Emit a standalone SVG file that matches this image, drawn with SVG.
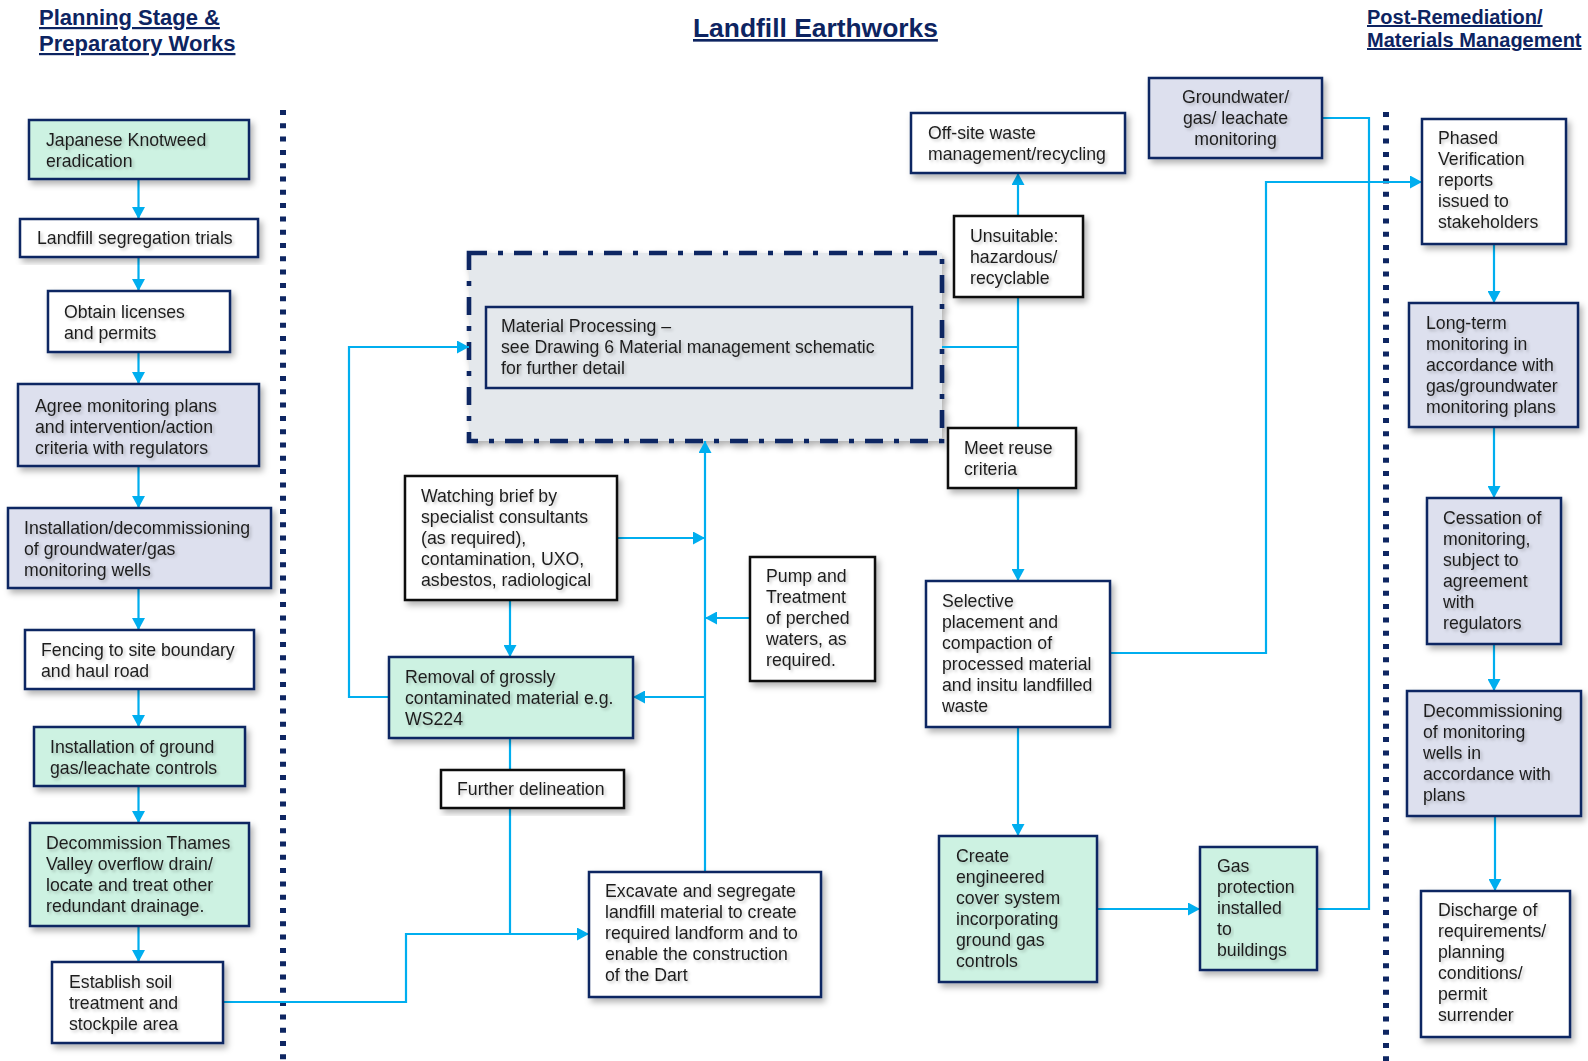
<svg xmlns="http://www.w3.org/2000/svg" width="1588" height="1061" viewBox="0 0 1588 1061">
<defs>
<filter id="sh" x="-10%" y="-10%" width="125%" height="130%">
<feDropShadow dx="3" dy="4" stdDeviation="3" flood-color="#000" flood-opacity="0.3"/>
</filter>
<filter id="tsh" x="-5%" y="-20%" width="115%" height="150%">
<feDropShadow dx="2" dy="2" stdDeviation="1.6" flood-color="#000" flood-opacity="0.22"/>
</filter>
<marker id="ah" markerUnits="userSpaceOnUse" markerWidth="13" markerHeight="13" refX="12" refY="6.5" orient="auto">
<path d="M0,0 L12,6.5 L0,13 Z" fill="#00AEEF"/>
</marker>
</defs>
<style>
.t{font-family:"Liberation Sans",Arial,sans-serif;font-size:17.7px;fill:#1e1e1e;filter:url(#tsh)}
.h{font-family:"Liberation Sans",Arial,sans-serif;font-weight:bold;fill:#0D2461;text-decoration:underline}
.b{stroke:#0E2662;stroke-width:2.5;filter:url(#sh)}
.k{stroke:#111;stroke-width:2.5;filter:url(#sh)}
.w{fill:#fff}
.m{fill:#CDF2E2}
.l{fill:#DDE0EE}
.c{fill:none;stroke:#00AEEF;stroke-width:2.2}
.a{marker-end:url(#ah)}
.dot{fill:none;stroke:#0E2662;stroke-width:6;stroke-dasharray:5 8.3}
</style>

<g id="titles">
<text class="h" x="39" y="25" font-size="22">Planning Stage &amp;</text>
<text class="h" x="39" y="51" font-size="22">Preparatory Works</text>
<text class="h" x="693" y="37" font-size="26.4">Landfill Earthworks</text>
<text class="h" x="1367" y="24" font-size="20">Post-Remediation/</text>
<text class="h" x="1367" y="47" font-size="20">Materials Management</text>
</g>

<g id="dividers">
<line class="dot" x1="283" y1="110" x2="283" y2="1061"/>
<line class="dot" x1="1386" y1="112" x2="1386" y2="1061"/>
</g>

<g id="material-processing-area">
<rect x="469" y="253" width="473" height="188" fill="#E4E8EC" stroke="#0E2662" stroke-width="4.6" stroke-dasharray="18 11 5 11" filter="url(#sh)"/>
</g>

<g id="connectors">
<path class="c a" d="M138.5,179 V219"/>
<path class="c a" d="M138.5,257 V291"/>
<path class="c a" d="M138.5,352 V384"/>
<path class="c a" d="M138.5,466 V508"/>
<path class="c a" d="M138.5,588 V630"/>
<path class="c a" d="M138.5,689 V727"/>
<path class="c a" d="M138.5,786 V823"/>
<path class="c a" d="M138.5,926 V962"/>
<path class="c a" d="M223,1002 H406 V934 H589"/>
<path class="c" d="M510,738 V770"/>
<path class="c" d="M510,808 V934"/>
<path class="c a" d="M510,600 V657"/>
<path class="c a" d="M617,538 H705"/>
<path class="c a" d="M705,872 V441"/>
<path class="c a" d="M705,697 H633"/>
<path class="c a" d="M750,618 H705"/>
<path class="c a" d="M389,697 H349 V347 H469"/>
<path class="c" d="M942,347 H1018"/>
<path class="c a" d="M1018,216 V173"/>
<path class="c" d="M1018,297 V428"/>
<path class="c a" d="M1018,488 V581"/>
<path class="c a" d="M1018,727 V836"/>
<path class="c a" d="M1097,909 H1200"/>
<path class="c" d="M1317,909 H1369 V118 H1322"/>
<path class="c a" d="M1110,653 H1266 V182 H1422"/>
<path class="c a" d="M1494,244 V303"/>
<path class="c a" d="M1494,427 V498"/>
<path class="c a" d="M1494,644 V691"/>
<path class="c a" d="M1495,816 V891"/>
</g>

<g id="knotweed">
<rect class="b m" x="29" y="120" width="220" height="59"/>
<text class="t" x="46" y="146">Japanese Knotweed</text>
<text class="t" x="46" y="167">eradication</text>
</g>
<g id="segregation-trials">
<rect class="b w" x="20" y="219" width="238" height="38"/>
<text class="t" x="37" y="244">Landfill segregation trials</text>
</g>
<g id="licenses">
<rect class="b w" x="48" y="291" width="182" height="61"/>
<text class="t" x="64" y="318">Obtain licenses</text>
<text class="t" x="64" y="339">and permits</text>
</g>
<g id="monitoring-plans">
<rect class="b l" x="18" y="384" width="241" height="82"/>
<text class="t" x="35" y="412">Agree monitoring plans</text>
<text class="t" x="35" y="433">and intervention/action</text>
<text class="t" x="35" y="454">criteria with regulators</text>
</g>
<g id="monitoring-wells">
<rect class="b l" x="8" y="508" width="263" height="80"/>
<text class="t" x="24" y="534">Installation/decommissioning</text>
<text class="t" x="24" y="555">of groundwater/gas</text>
<text class="t" x="24" y="576">monitoring wells</text>
</g>
<g id="fencing">
<rect class="b w" x="25" y="630" width="229" height="59"/>
<text class="t" x="41" y="656">Fencing to site boundary</text>
<text class="t" x="41" y="677">and haul road</text>
</g>
<g id="gas-controls">
<rect class="b m" x="34" y="727" width="211" height="59"/>
<text class="t" x="50" y="753">Installation of ground</text>
<text class="t" x="50" y="774">gas/leachate controls</text>
</g>
<g id="decommission-drain">
<rect class="b m" x="30" y="823" width="219" height="103"/>
<text class="t" x="46" y="849">Decommission Thames</text>
<text class="t" x="46" y="870">Valley overflow drain/</text>
<text class="t" x="46" y="891">locate and treat other</text>
<text class="t" x="46" y="912">redundant drainage.</text>
</g>
<g id="soil-treatment">
<rect class="b w" x="52" y="962" width="171" height="81"/>
<text class="t" x="69" y="988">Establish soil</text>
<text class="t" x="69" y="1009">treatment and</text>
<text class="t" x="69" y="1030">stockpile area</text>
</g>

<g id="material-processing">
<rect x="486" y="307" width="426" height="81" fill="none" stroke="#0E2662" stroke-width="2.5"/>
<text class="t" x="501" y="332">Material Processing –</text>
<text class="t" x="501" y="353">see Drawing 6 Material management schematic</text>
<text class="t" x="501" y="374">for further detail</text>
</g>
<g id="watching-brief">
<rect class="k w" x="405" y="476" width="212" height="124"/>
<text class="t" x="421" y="502">Watching brief by</text>
<text class="t" x="421" y="523">specialist consultants</text>
<text class="t" x="421" y="544">(as required),</text>
<text class="t" x="421" y="565">contamination, UXO,</text>
<text class="t" x="421" y="586">asbestos, radiological</text>
</g>
<g id="pump-treatment">
<rect class="k w" x="750" y="557" width="125" height="124"/>
<text class="t" x="766" y="582">Pump and</text>
<text class="t" x="766" y="603">Treatment</text>
<text class="t" x="766" y="624">of perched</text>
<text class="t" x="766" y="645">waters, as</text>
<text class="t" x="766" y="666">required.</text>
</g>
<g id="removal">
<rect class="b m" x="389" y="657" width="244" height="81"/>
<text class="t" x="405" y="683">Removal of grossly</text>
<text class="t" x="405" y="704">contaminated material e.g.</text>
<text class="t" x="405" y="725">WS224</text>
</g>
<g id="further-delineation">
<rect class="k w" x="441" y="770" width="183" height="38"/>
<text class="t" x="457" y="795">Further delineation</text>
</g>
<g id="excavate">
<rect class="b w" x="589" y="872" width="232" height="125"/>
<text class="t" x="605" y="897">Excavate and segregate</text>
<text class="t" x="605" y="918">landfill material to create</text>
<text class="t" x="605" y="939">required landform and to</text>
<text class="t" x="605" y="960">enable the construction</text>
<text class="t" x="605" y="981">of the Dart</text>
</g>

<g id="offsite-waste">
<rect class="b w" x="911" y="113" width="214" height="60"/>
<text class="t" x="928" y="139">Off-site waste</text>
<text class="t" x="928" y="160">management/recycling</text>
</g>
<g id="groundwater-monitoring">
<rect class="b l" x="1149" y="78" width="173" height="80"/>
<text class="t" x="1235.5" y="103" text-anchor="middle">Groundwater/</text>
<text class="t" x="1235.5" y="124" text-anchor="middle">gas/ leachate</text>
<text class="t" x="1235.5" y="145" text-anchor="middle">monitoring</text>
</g>
<g id="unsuitable">
<rect class="k w" x="954" y="216" width="129" height="81"/>
<text class="t" x="970" y="242">Unsuitable:</text>
<text class="t" x="970" y="263">hazardous/</text>
<text class="t" x="970" y="284">recyclable</text>
</g>
<g id="meet-reuse">
<rect class="k w" x="948" y="428" width="128" height="60"/>
<text class="t" x="964" y="454">Meet reuse</text>
<text class="t" x="964" y="475">criteria</text>
</g>
<g id="selective-placement">
<rect class="b w" x="926" y="581" width="184" height="146"/>
<text class="t" x="942" y="607">Selective</text>
<text class="t" x="942" y="628">placement and</text>
<text class="t" x="942" y="649">compaction of</text>
<text class="t" x="942" y="670">processed material</text>
<text class="t" x="942" y="691">and insitu landfilled</text>
<text class="t" x="942" y="712">waste</text>
</g>
<g id="cover-system">
<rect class="b m" x="939" y="836" width="158" height="146"/>
<text class="t" x="956" y="862">Create</text>
<text class="t" x="956" y="883">engineered</text>
<text class="t" x="956" y="904">cover system</text>
<text class="t" x="956" y="925">incorporating</text>
<text class="t" x="956" y="946">ground gas</text>
<text class="t" x="956" y="967">controls</text>
</g>
<g id="gas-protection">
<rect class="b m" x="1200" y="847" width="117" height="123"/>
<text class="t" x="1217" y="872">Gas</text>
<text class="t" x="1217" y="893">protection</text>
<text class="t" x="1217" y="914">installed</text>
<text class="t" x="1217" y="935">to</text>
<text class="t" x="1217" y="956">buildings</text>
</g>

<g id="verification-reports">
<rect class="b w" x="1422" y="119" width="144" height="125"/>
<text class="t" x="1438" y="144">Phased</text>
<text class="t" x="1438" y="165">Verification</text>
<text class="t" x="1438" y="186">reports</text>
<text class="t" x="1438" y="207">issued to</text>
<text class="t" x="1438" y="228">stakeholders</text>
</g>
<g id="long-term-monitoring">
<rect class="b l" x="1409" y="303" width="169" height="124"/>
<text class="t" x="1426" y="329">Long-term</text>
<text class="t" x="1426" y="350">monitoring in</text>
<text class="t" x="1426" y="371">accordance with</text>
<text class="t" x="1426" y="392">gas/groundwater</text>
<text class="t" x="1426" y="413">monitoring plans</text>
</g>
<g id="cessation">
<rect class="b l" x="1427" y="498" width="134" height="146"/>
<text class="t" x="1443" y="524">Cessation of</text>
<text class="t" x="1443" y="545">monitoring,</text>
<text class="t" x="1443" y="566">subject to</text>
<text class="t" x="1443" y="587">agreement</text>
<text class="t" x="1443" y="608">with</text>
<text class="t" x="1443" y="629">regulators</text>
</g>
<g id="decommissioning-wells">
<rect class="b l" x="1407" y="691" width="174" height="125"/>
<text class="t" x="1423" y="717">Decommissioning</text>
<text class="t" x="1423" y="738">of monitoring</text>
<text class="t" x="1423" y="759">wells in</text>
<text class="t" x="1423" y="780">accordance with</text>
<text class="t" x="1423" y="801">plans</text>
</g>
<g id="discharge">
<rect class="b w" x="1421" y="891" width="149" height="146"/>
<text class="t" x="1438" y="916">Discharge of</text>
<text class="t" x="1438" y="937">requirements/</text>
<text class="t" x="1438" y="958">planning</text>
<text class="t" x="1438" y="979">conditions/</text>
<text class="t" x="1438" y="1000">permit</text>
<text class="t" x="1438" y="1021">surrender</text>
</g>
</svg>
